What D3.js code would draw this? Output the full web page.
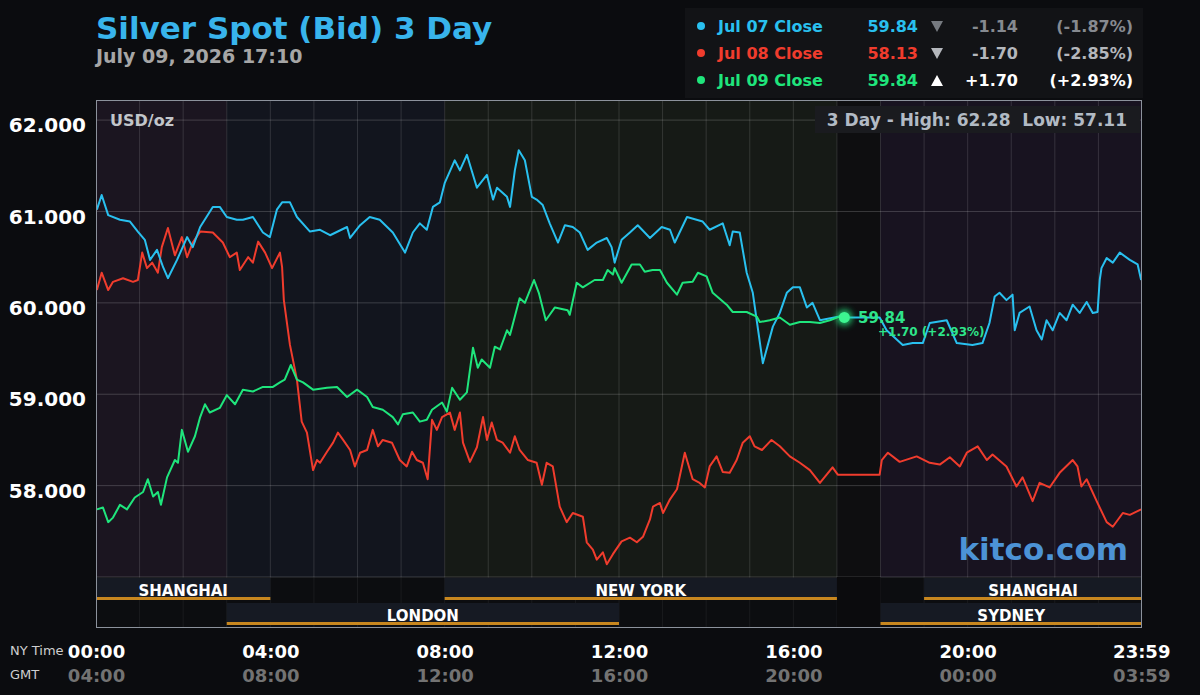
<!DOCTYPE html>
<html>
<head>
<meta charset="utf-8">
<script src="https://cdn.jsdelivr.net/npm/d3@7"></script>
<style>
html, body { margin: 0; padding: 0; background: #0b0c0f; }
svg { display: block; font-family: "DejaVu Sans", sans-serif; }
</style>
</head>
<body>
<svg id="chart" width="1200" height="695"></svg>
<script>
// series: [hour of NY day, price]
var jul07 = [[0.02,61.02],[0.13,61.18],[0.28,60.96],[0.55,60.91],[0.78,60.89],[0.96,60.78],[1.12,60.69],[1.24,60.47],[1.40,60.58],[1.54,60.39],[1.65,60.27],[1.86,60.47],[2.09,60.72],[2.22,60.61],[2.39,60.83],[2.68,61.05],[2.84,61.05],[3.00,60.94],[3.23,60.91],[3.37,60.91],[3.60,60.94],[3.83,60.77],[3.99,60.72],[4.15,61.02],[4.27,61.10],[4.45,61.10],[4.61,60.94],[4.91,60.78],[5.14,60.80],[5.37,60.74],[5.76,60.83],[5.83,60.71],[6.06,60.85],[6.28,60.94],[6.51,60.91],[6.81,60.77],[7.09,60.55],[7.27,60.77],[7.43,60.87],[7.59,60.80],[7.73,61.05],[7.89,61.10],[8.00,61.31],[8.23,61.56],[8.35,61.45],[8.51,61.62],[8.74,61.26],[8.97,61.40],[9.11,61.13],[9.20,61.26],[9.43,61.16],[9.50,61.05],[9.61,61.45],[9.70,61.67],[9.84,61.56],[10.00,61.16],[10.11,61.13],[10.25,61.07],[10.41,60.87],[10.60,60.66],[10.76,60.85],[10.94,60.83],[11.10,60.77],[11.28,60.58],[11.49,60.66],[11.72,60.71],[11.83,60.61],[11.90,60.44],[12.06,60.69],[12.25,60.77],[12.43,60.85],[12.71,60.71],[12.98,60.83],[13.17,60.80],[13.28,60.66],[13.56,60.94],[13.92,60.89],[14.08,60.80],[14.38,60.87],[14.54,60.63],[14.61,60.78],[14.77,60.77],[14.93,60.33],[15.07,60.11],[15.30,59.34],[15.53,59.74],[15.69,59.89],[15.85,60.11],[15.99,60.17],[16.15,60.17],[16.31,59.95],[16.44,60.00],[16.61,59.81],[17.06,59.85],[17.17,59.84],[17.98,59.84],[18.14,59.70],[18.51,59.54],[18.74,59.56],[18.97,59.56],[19.13,59.78],[19.52,59.81],[19.75,59.56],[20.11,59.54],[20.34,59.56],[20.50,59.78],[20.62,60.07],[20.73,60.11],[20.89,60.03],[21.03,60.09],[21.08,59.70],[21.19,59.89],[21.42,59.96],[21.58,59.70],[21.70,59.60],[21.81,59.81],[21.95,59.70],[22.11,59.89],[22.27,59.81],[22.41,59.98],[22.57,59.89],[22.73,60.01],[22.87,59.89],[22.98,59.90],[23.03,60.25],[23.07,60.38],[23.19,60.49],[23.33,60.44],[23.49,60.55],[23.72,60.47],[23.90,60.42],[23.98,60.25]];

var jul08 = [[0.02,60.14],[0.13,60.33],[0.28,60.14],[0.39,60.23],[0.62,60.27],[0.85,60.23],[0.96,60.25],[1.06,60.55],[1.17,60.38],[1.29,60.44],[1.42,60.33],[1.51,60.61],[1.65,60.82],[1.81,60.52],[1.97,60.72],[2.09,60.50],[2.22,60.66],[2.39,60.78],[2.68,60.77],[2.91,60.66],[3.07,60.50],[3.23,60.55],[3.30,60.36],[3.49,60.50],[3.60,60.44],[3.72,60.67],[3.88,60.55],[4.04,60.38],[4.22,60.55],[4.27,60.39],[4.31,60.03],[4.45,59.54],[4.61,59.16],[4.72,58.70],[4.84,58.58],[4.98,58.17],[5.07,58.28],[5.14,58.25],[5.30,58.37],[5.44,58.47],[5.55,58.58],[5.67,58.50],[5.83,58.39],[5.94,58.21],[6.06,58.36],[6.22,58.39],[6.35,58.61],[6.47,58.43],[6.58,58.50],[6.79,58.47],[6.97,58.28],[7.13,58.21],[7.25,58.37],[7.36,58.28],[7.50,58.25],[7.61,58.07],[7.71,58.72],[7.82,58.61],[7.94,58.75],[8.12,58.80],[8.23,58.61],[8.35,58.80],[8.42,58.47],[8.58,58.26],[8.74,58.42],[8.88,58.75],[8.97,58.50],[9.08,58.69],[9.20,58.50],[9.33,58.47],[9.50,58.36],[9.61,58.54],[9.72,58.39],[9.91,58.28],[10.11,58.25],[10.23,58.01],[10.34,58.25],[10.48,58.21],[10.64,57.77],[10.80,57.60],[10.94,57.70],[11.17,57.66],[11.26,57.38],[11.40,57.30],[11.49,57.19],[11.63,57.27],[11.72,57.14],[11.86,57.25],[12.06,57.39],[12.25,57.43],[12.41,57.38],[12.55,57.44],[12.71,57.63],[12.78,57.77],[12.94,57.81],[13.01,57.70],[13.17,57.85],[13.33,57.96],[13.51,58.36],[13.69,58.07],[13.85,58.03],[13.97,57.98],[14.08,58.21],[14.24,58.32],[14.38,58.15],[14.54,58.14],[14.70,58.28],[14.84,58.47],[15.00,58.54],[15.11,58.43],[15.28,58.39],[15.50,58.50],[15.69,58.43],[15.92,58.32],[16.15,58.25],[16.38,58.17],[16.61,58.03],[16.90,58.20],[17.02,58.12],[17.98,58.12],[18.03,58.28],[18.17,58.36],[18.44,58.26],[18.83,58.32],[19.13,58.25],[19.36,58.23],[19.59,58.31],[19.82,58.21],[19.98,58.36],[20.23,58.43],[20.44,58.28],[20.57,58.34],[20.89,58.21],[21.12,57.99],[21.26,58.09],[21.49,57.83],[21.65,58.03],[21.88,57.98],[22.11,58.14],[22.41,58.28],[22.52,58.21],[22.61,57.99],[22.73,58.07],[22.96,57.83],[23.19,57.60],[23.33,57.55],[23.56,57.70],[23.72,57.68],[23.98,57.74]];

var jul09 = [[0.02,57.74],[0.16,57.76],[0.28,57.60],[0.39,57.65],[0.55,57.79],[0.71,57.74],[0.89,57.87],[1.08,57.93],[1.19,58.07],[1.31,57.88],[1.42,57.93],[1.49,57.79],[1.63,58.09],[1.81,58.28],[1.88,58.25],[1.97,58.61],[2.11,58.37],[2.27,58.54],[2.39,58.75],[2.50,58.89],[2.61,58.80],[2.84,58.85],[3.00,58.99],[3.19,58.89],[3.37,59.05],[3.60,59.03],[3.83,59.08],[4.06,59.08],[4.22,59.13],[4.33,59.16],[4.47,59.32],[4.61,59.16],[4.75,59.13],[4.98,59.05],[5.30,59.07],[5.53,59.08],[5.76,58.97],[5.99,59.05],[6.22,58.97],[6.35,58.86],[6.58,58.83],[6.81,58.75],[6.93,58.67],[7.04,58.78],[7.27,58.80],[7.43,58.70],[7.59,58.72],[7.71,58.83],[7.94,58.91],[8.05,58.81],[8.17,59.07],[8.35,58.94],[8.51,59.02],[8.65,59.51],[8.76,59.29],[8.85,59.38],[9.04,59.29],[9.15,59.52],[9.27,59.49],[9.43,59.70],[9.50,59.65],[9.72,60.05],[9.84,60.00],[10.05,60.25],[10.16,60.11],[10.32,59.81],[10.41,59.87],[10.53,59.95],[10.82,59.92],[10.87,59.87],[11.03,60.22],[11.17,60.17],[11.44,60.25],[11.63,60.25],[11.74,60.36],[11.86,60.31],[11.90,60.38],[12.06,60.22],[12.29,60.42],[12.48,60.42],[12.59,60.34],[12.77,60.36],[12.94,60.36],[13.10,60.22],[13.33,60.09],[13.46,60.22],[13.69,60.23],[13.81,60.33],[14.01,60.29],[14.15,60.11],[14.47,59.98],[14.61,59.90],[14.93,59.90],[15.16,59.85],[15.23,59.79],[15.46,59.81],[15.69,59.84],[15.92,59.76],[16.15,59.79],[16.38,59.79],[16.61,59.78],[16.84,59.81],[17.06,59.85],[17.17,59.84]];

var priceTicks = [58, 59, 60, 61, 62];
var timeTicks = [0, 4, 8, 12, 16, 20, 23.983];
var nyLabels = ["00:00", "04:00", "08:00", "12:00", "16:00", "20:00", "23:59"];
var gmtLabels = ["04:00", "08:00", "12:00", "16:00", "20:00", "00:00", "03:59"];

var legendNames = ["Jul 07 Close", "Jul 08 Close", "Jul 09 Close"];
var legendClose = ["59.84", "58.13", "59.84"];
var legendChange = ["-1.14", "-1.70", "+1.70"];
var legendPct = ["(-1.87%)", "(-2.85%)", "(+2.93%)"];
var legendUp = [false, false, true];

var sessionNames = ["SHANGHAI", "NEW YORK", "SHANGHAI", "LONDON", "SYDNEY"];
var sessionStart = [0, 8, 19, 3, 18];
var sessionEnd = [4, 17, 24, 12, 24];
var sessionRow = [0, 0, 0, 1, 1];

var lastTime = 17.17, lastPrice = 59.84;
var dayHigh = "62.28", dayLow = "57.11";

var seriesColors = ["#29c0ef", "#f03c2d", "#1fe57c"];
var zoneStart = [0, 3, 8, 17, 18];
var zoneEnd = [3, 8, 17, 18, 24];
var zoneColor = ["#1b1520", "#12151e", "#161a16", "#0e0e10", "#181320"];

var svg = d3.select("#chart");
var plotLeft = 96, plotRight = 1142, plotTop = 100, priceBottom = 577, frameBottom = 627;

var x = d3.scaleLinear().domain([0, 24]).range([plotLeft, plotRight]);
var y = d3.scaleLinear().domain([57, 62.22]).range([priceBottom, plotTop]);

// title
svg.append("text").attr("x", 96).attr("y", 39)
    .attr("font-size", 31).attr("font-weight", "bold").attr("fill", "#38b4ec")
    .text("Silver Spot (Bid) 3 Day");
svg.append("text").attr("x", 96).attr("y", 63)
    .attr("font-size", 19).attr("font-weight", "bold").attr("fill", "#a6a6a6")
    .text("July 09, 2026 17:10");

// legend
var legend = svg.append("g");
legend.append("rect").attr("x", 685).attr("y", 8).attr("width", 458).attr("height", 90).attr("fill", "#121316");
legendNames.forEach(function (name, i) {
    var cy = 26 + i * 27;
    var dim = i === 0 ? "#868a90" : (i === 1 ? "#b4b7bc" : "#ffffff");
    legend.append("circle").attr("cx", 701).attr("cy", cy).attr("r", 4).attr("fill", seriesColors[i]);
    legend.append("text").attr("x", 718).attr("y", cy + 6).attr("font-size", 16).attr("font-weight", "bold")
        .attr("fill", seriesColors[i]).text(name);
    legend.append("text").attr("x", 918).attr("y", cy + 6).attr("font-size", 16).attr("font-weight", "bold")
        .attr("text-anchor", "end").attr("fill", seriesColors[i]).text(legendClose[i]);
    var tri = legendUp[i]
        ? [[931, cy + 6], [943, cy + 6], [937, cy - 5]]
        : [[931, cy - 5], [943, cy - 5], [937, cy + 6]];
    legend.append("path").attr("d", d3.line()(tri) + "Z").attr("fill", i === 0 ? "#767a80" : dim);
    legend.append("text").attr("x", 1018).attr("y", cy + 6).attr("font-size", 16).attr("font-weight", "bold")
        .attr("text-anchor", "end").attr("fill", dim).text(legendChange[i]);
    legend.append("text").attr("x", 1133).attr("y", cy + 6).attr("font-size", 16).attr("font-weight", "bold")
        .attr("text-anchor", "end").attr("fill", dim).text(legendPct[i]);
});

// plot background zones
svg.append("g").selectAll("rect").data(zoneStart).join("rect")
    .attr("x", function (d) { return x(d); })
    .attr("y", plotTop)
    .attr("width", function (d, i) { return x(zoneEnd[i]) - x(d); })
    .attr("height", priceBottom - plotTop)
    .attr("fill", function (d, i) { return zoneColor[i]; });

// session rows
var rowTop = [578, 603];
var rowH = 24;
svg.append("rect").attr("x", plotLeft).attr("y", priceBottom).attr("width", plotRight - plotLeft)
    .attr("height", frameBottom - priceBottom).attr("fill", "#0c0d10");
var sess = svg.append("g");
sessionNames.forEach(function (name, i) {
    var r = sessionRow[i];
    var x0 = x(sessionStart[i]), x1 = x(sessionEnd[i]);
    sess.append("rect").attr("x", x0).attr("y", rowTop[r]).attr("width", x1 - x0).attr("height", rowH - 4)
        .attr("fill", "#161a23");
    sess.append("rect").attr("x", x0).attr("y", rowTop[r] + rowH - 5).attr("width", x1 - x0).attr("height", 3)
        .attr("fill", "#c8871f");
});

// gridlines
var grid = svg.append("g");
grid.selectAll("line.v").data(d3.range(1, 24)).join("line")
    .attr("x1", function (d) { return x(d); }).attr("x2", function (d) { return x(d); })
    .attr("y1", plotTop).attr("y2", priceBottom)
    .attr("stroke", "#ffffff").attr("stroke-opacity", 0.13);
grid.selectAll("line.vs").data(d3.range(1, 24)).join("line")
    .attr("x1", function (d) { return x(d); }).attr("x2", function (d) { return x(d); })
    .attr("y1", priceBottom).attr("y2", frameBottom)
    .attr("stroke", "#ffffff").attr("stroke-opacity", 0.06);
grid.selectAll("line.h").data(priceTicks.concat([57])).join("line")
    .attr("x1", plotLeft).attr("x2", plotRight)
    .attr("y1", function (d) { return y(d); }).attr("y2", function (d) { return y(d); })
    .attr("stroke", "#ffffff").attr("stroke-opacity", 0.18);

// closed-market gap in the session rows
svg.append("rect").attr("x", x(17)).attr("y", priceBottom).attr("width", x(18) - x(17))
    .attr("height", frameBottom - priceBottom).attr("fill", "#0b0b0d");

// session labels
sessionNames.forEach(function (name, i) {
    var r = sessionRow[i];
    sess.append("text").attr("x", (x(sessionStart[i]) + x(sessionEnd[i])) / 2).attr("y", rowTop[r] + 18)
        .attr("text-anchor", "middle").attr("font-size", 15).attr("font-weight", "bold")
        .attr("fill", "#ffffff").text(name);
});
sess.raise();

// labels inside plot
svg.append("text").attr("x", 110).attr("y", 126).attr("font-size", 16).attr("font-weight", "bold")
    .attr("fill", "#c2c5ca").text("USD/oz");
svg.append("rect").attr("x", 815).attr("y", 106).attr("width", 325).attr("height", 27).attr("fill", "#1a1b1f");
svg.append("text").attr("x", 1127).attr("y", 126).attr("font-size", 17).attr("font-weight", "bold")
    .attr("text-anchor", "end").attr("fill", "#b2bac4")
    .text("3 Day - High: " + dayHigh + "\u00a0\u00a0Low: " + dayLow);
svg.append("text").attr("x", 1128).attr("y", 560).attr("font-size", 31).attr("font-weight", "bold")
    .attr("text-anchor", "end").attr("fill", "#4c93d6").text("kitco.com");

// series lines
var line = d3.line().x(function (d) { return x(d[0]); }).y(function (d) { return y(d[1]); });
var lines = svg.append("g").attr("fill", "none").attr("stroke-width", 2).attr("stroke-linejoin", "round");
[jul08, jul07, jul09].forEach(function (s, k) {
    var ci = [1, 0, 2][k];
    lines.append("path").attr("d", line(s)).attr("stroke", seriesColors[ci]);
});

// last price marker
var defs = svg.append("defs");
var f = defs.append("filter").attr("id", "glow").attr("x", "-100%").attr("y", "-100%").attr("width", "300%").attr("height", "300%");
f.append("feGaussianBlur").attr("stdDeviation", 3);
svg.append("circle").attr("cx", x(lastTime)).attr("cy", y(lastPrice)).attr("r", 8)
    .attr("fill", "#22e87f").attr("opacity", 0.8).attr("filter", "url(#glow)");
svg.append("circle").attr("cx", x(lastTime)).attr("cy", y(lastPrice)).attr("r", 5.5).attr("fill", "#3df591");
svg.append("text").attr("x", 858).attr("y", y(lastPrice) + 6).attr("font-size", 15).attr("font-weight", "bold")
    .attr("fill", "#2ee58a").text(d3.format(".2f")(lastPrice));
svg.append("text").attr("x", 878).attr("y", y(lastPrice) + 19).attr("font-size", 12).attr("font-weight", "bold")
    .attr("fill", "#2ee58a").text(legendChange[2] + " " + legendPct[2]);

// frame
svg.append("rect").attr("x", plotLeft + 0.5).attr("y", plotTop + 0.5).attr("width", plotRight - plotLeft - 1)
    .attr("height", frameBottom - plotTop).attr("fill", "none").attr("stroke", "#8c929c").attr("stroke-width", 1);

// y axis
var yAxis = svg.append("g").attr("transform", "translate(86,0)")
    .call(d3.axisLeft(y).tickValues(priceTicks).tickFormat(d3.format(".3f")).tickSize(0).tickPadding(0));
yAxis.select(".domain").remove();
yAxis.selectAll("text").attr("font-size", 20).attr("font-weight", "bold").attr("fill", "#ffffff")
    .attr("font-family", "DejaVu Sans").attr("dy", "0.58em");

// x axes (NY time and GMT)
function timeAxis(labels, ypos, color) {
    var g = svg.append("g").attr("transform", "translate(0," + ypos + ")")
        .call(d3.axisBottom(x).tickValues(timeTicks).tickSize(0).tickPadding(0)
            .tickFormat(function (d, i) { return labels[i]; }));
    g.select(".domain").remove();
    g.selectAll("text").attr("font-size", 18).attr("font-weight", "bold").attr("fill", color)
        .attr("font-family", "DejaVu Sans");
}
timeAxis(nyLabels, 645, "#ffffff");
timeAxis(gmtLabels, 669, "#737373");

svg.append("text").attr("x", 10).attr("y", 655).attr("font-size", 13).attr("fill", "#cfcfcf").text("NY Time");
svg.append("text").attr("x", 10).attr("y", 679).attr("font-size", 13).attr("fill", "#cfcfcf").text("GMT");
</script>
</body>
</html>
